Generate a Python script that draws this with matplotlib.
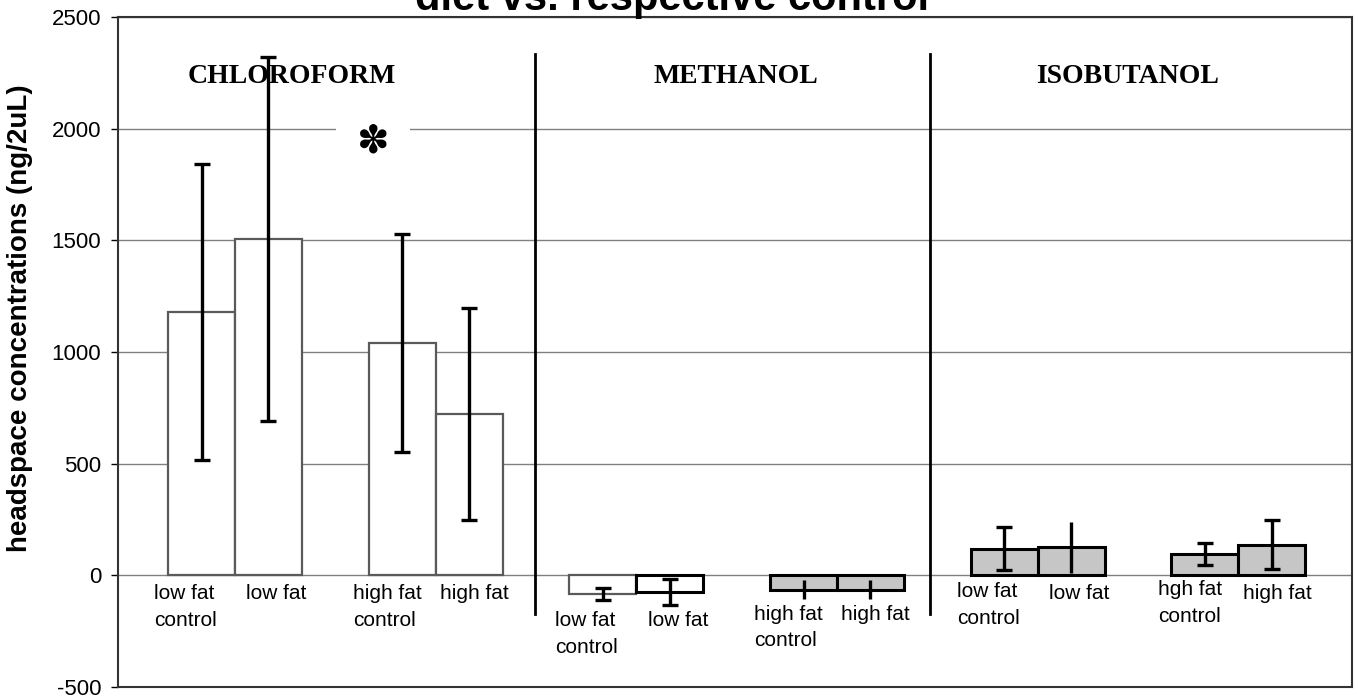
import numpy as np
import matplotlib
matplotlib.use('Agg')
import matplotlib.pyplot as plt

# data (ng/2uL)
groups = ['CHLOROFORM', 'METHANOL', 'ISOBUTANOL']
bar_labels = [
    ['low fat\ncontrol', 'low fat', 'high fat\ncontrol', 'high fat'],
    ['low fat\ncontrol', 'low fat', 'high fat\ncontrol', 'high fat'],
    ['low fat\ncontrol', 'low fat', 'hgh fat\ncontrol', 'high fat'],
]
chloroform = [1180, 1504, 1040, 723]
chloroform_err = [662, 815, 489, 475]
methanol = [-85, -75, -65, -65]
methanol_err = [27, 60, 42, 42]
isobutanol = [120, 125, 96, 137]
isobutanol_err = [98, 116, 49, 110]
yticks = [-500, 0, 500, 1000, 1500, 2000, 2500]

values = [chloroform, methanol, isobutanol]
errors = [chloroform_err, methanol_err, isobutanol_err]

# styling per bar
faces = [['white'] * 4,
         ['white', 'white', '#c6c6c6', '#c6c6c6'],
         ['#c6c6c6'] * 4]
edges = [['#5a5a5a'] * 4,
         ['#5a5a5a', 'black', 'black', 'black'],
         ['black'] * 4]
edge_w = [[1.6] * 4, [1.6, 2.2, 2.2, 2.2], [2.2] * 4]
caps = [[True] * 4, [True, True, False, False], [True, False, True, True]]
label_dx = [-0.24, 0.12, -0.22, 0.08]
label_top = [[-40, -40, -40, -40], [-160, -160, -132, -132], [-30, -40, -22, -40]]
title_x = [1.35, 7.99, 13.85]

sans = ['Liberation Sans', 'DejaVu Sans']
serif = ['Liberation Serif', 'DejaVu Serif']

fig = plt.figure(figsize=(13.58, 7), dpi=100)
ax = fig.add_axes([118 / 1358, 13 / 700, 1234 / 1358, 670 / 700])

for g in range(3):
    pos = g * 6 + np.array([0, 1, 3, 4])
    for i in range(4):
        ax.bar(pos[i], values[g][i], width=1.0, color=faces[g][i],
               edgecolor=edges[g][i], linewidth=edge_w[g][i], zorder=2)
        ax.errorbar(pos[i], values[g][i], yerr=errors[g][i], fmt='none',
                    ecolor='black', elinewidth=2.4,
                    capsize=6 if caps[g][i] else 0, capthick=2.4, zorder=4)
        ax.text(pos[i] + label_dx[i], label_top[g][i], bar_labels[g][i],
                ha='center', va='top', ma='left', fontsize=15,
                family=sans, linespacing=1.5, zorder=5)
    ax.text(title_x[g], 2232, groups[g], ha='center', va='center',
            fontsize=20, fontweight='bold', family=serif, zorder=3)

# group dividers
for xd in [4.985, 10.89]:
    ax.plot([xd, xd], [-174, 2335], color='black', lw=2, zorder=3)

# significance mark
ax.text(2.56, 1942, '\u273d', ha='center', va='center', fontsize=28,
        family=['DejaVu Sans'], zorder=3,
        bbox=dict(facecolor='white', edgecolor='none', pad=15))

ax.set_xlim(-1.25, 17.2)
ax.set_ylim(-500, 2500)
ax.set_yticks(yticks)
ax.set_yticklabels([str(t) for t in yticks], family=sans, fontsize=16)
ax.set_xticks([])
ax.yaxis.grid(True, color='#808080', lw=1)
ax.set_axisbelow(True)
ax.tick_params(axis='y', length=5, width=1, pad=7)
for sp in ax.spines.values():
    sp.set_color('#333333')
    sp.set_linewidth(1.5)

ax.set_ylabel('headspace concentrations (ng/2uL)', fontsize=20,
              fontweight='bold', family=sans)
ax.yaxis.set_label_coords(-0.069, 0.55)

# title sits mostly above the figure edge, as in the reference
fig.text(0.495, 1 - 10 / 700, 'diet vs. respective control', ha='center',
         va='baseline', fontsize=30, fontweight='bold', family=sans)

fig.savefig('out.png', dpi=100)
